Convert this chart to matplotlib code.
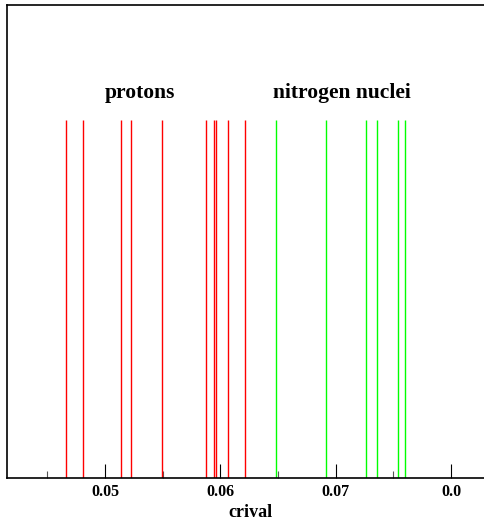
import matplotlib
matplotlib.use('Agg')
import matplotlib.pyplot as plt
from matplotlib.ticker import FixedLocator

# crival values
proton_vals = [0.04661, 0.04806, 0.05137, 0.05229, 0.05498,
               0.05872, 0.05948, 0.05963, 0.06070, 0.06217]
nitrogen_vals = [0.06481, 0.06919, 0.07267, 0.07359, 0.07542, 0.07600]

major_ticks = [0.05, 0.06, 0.07, 0.08]
major_labels = ['0.05', '0.06', '0.07', '0.0']
minor_ticks = [0.045, 0.055, 0.065, 0.075]

plt.rcParams['font.family'] = ['Liberation Serif', 'DejaVu Serif']

fig = plt.figure(figsize=(4.85, 5.24), dpi=100)
ax = fig.add_axes([0.0144, 0.0878, 1.0056, 0.9027])

ax.vlines(proton_vals, 0, 1, colors='#ff0000', linewidth=1.0)
ax.vlines(nitrogen_vals, 0, 1, colors='#00ff00', linewidth=1.0)

ax.set_xlim(0.041503, 0.083789)
ax.set_ylim(0, 1.321)

ax.text(0.05303, 1.061, 'protons', ha='center', va='baseline',
        fontsize=15.5, fontweight='bold')
ax.text(0.07052, 1.061, 'nitrogen nuclei', ha='center', va='baseline',
        fontsize=15.5, fontweight='bold')

ax.xaxis.set_major_locator(FixedLocator(major_ticks))
ax.set_xticklabels(major_labels, fontsize=11.5, fontweight='bold')
ax.xaxis.set_minor_locator(FixedLocator(minor_ticks))
ax.tick_params(axis='x', which='major', direction='in', length=10, width=0.8,
               color='black', pad=4)
ax.tick_params(axis='x', which='minor', direction='in', length=5, width=0.8,
               color='#555555')
ax.set_yticks([])
ax.set_xlabel('crival', fontsize=13, fontweight='bold', labelpad=3)

for side in ['left', 'top', 'bottom']:
    ax.spines[side].set_linewidth(1.2)
ax.spines['right'].set_visible(False)

fig.savefig('out.png', dpi=100)
